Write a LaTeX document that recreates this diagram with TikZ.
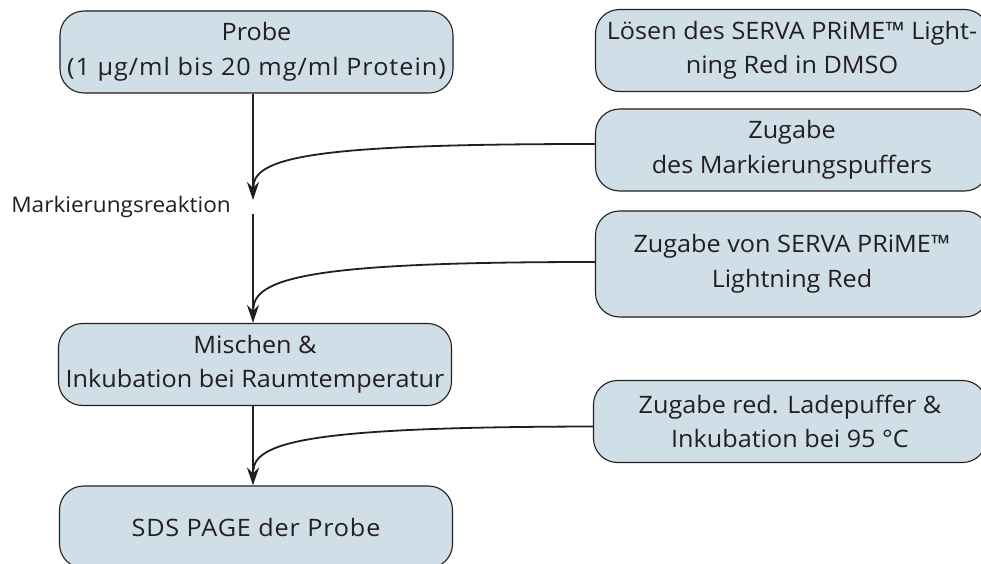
\documentclass[tikz,border=0pt]{standalone}
\usepackage{fontspec}
\setmainfont{Open Sans}[FakeStretch=1.05]
\usetikzlibrary{arrows.meta}
\definecolor{boxfill}{HTML}{D0DEE7}
\definecolor{ink}{HTML}{231F20}
\begin{document}
\begin{tikzpicture}[x=1pt,y=-1pt,
  stepbox/.style={draw=ink, line width=1.1pt, fill=boxfill, rounded corners=24pt,
    minimum width=393pt, minimum height=82pt, inner sep=0pt, align=center,
    text=ink, font=\fontsize{24}{34.5}\selectfont},
  flow/.style={draw=ink, line width=1.8pt, -{Stealth[length=18pt,width=12pt,inset=6pt]}},
  feed/.style={draw=ink, line width=1.8pt}]
\useasboundingbox (0,0) rectangle (981,564);
\fill[white] (0,0) rectangle (981,564);

\node[stepbox] (probe) at (256.5,52) {Probe\\{\addfontfeature{LetterSpace=4.2}(1 µg/ml bis 20 mg/ml Protein)}};
\node[stepbox] (misch) at (255,364.5) {Mischen \&\\Inkubation bei Raumtemperatur};
\node[stepbox] (sds) at (256,527) {\addfontfeature{LetterSpace=3.5}SDS PAGE der Probe};

\node[stepbox] (loesen) at (792,50.5) {Lösen des SERVA PRiME™ Light-\\ning Red in DMSO};
\node[stepbox] (zug1) at (792,150) {Zugabe\\des Markierungspuffers};
\node[stepbox, minimum height=106pt] (zug2) at (792,264) {Zugabe von SERVA PRiME™\\Lightning Red};
\node[stepbox] (zug3) at (790,421.5) {Zugabe red. Ladepuffer \&\\Inkubation bei 95 °C};

\coordinate (m1) at (253,200);
\coordinate (m2) at (253,214);
\node[anchor=east, inner sep=0pt, text=ink, font=\fontsize{21.5}{24}\selectfont] (lbl) at (231,207) {Markierungsreaktion};

\coordinate (j1) at (253.5,186);
\coordinate (j2) at (253.5,308);
\coordinate (j3) at (253.5,470);

\draw[flow] (probe.south -| m1) -- (m1);
\draw[flow] (m2) -- (m2 |- misch.north);
\draw[flow] (misch.south -| m1) -- (m1 |- sds.north);

\draw[feed] ([yshift=6pt]zug1.west) .. controls (330,144) and (255,155) .. (j1);
\draw[feed] ([yshift=2pt]zug2.west) .. controls (330,262) and (255,275) .. (j2);
\draw[feed] ([yshift=-5pt]zug3.west) .. controls (330,427) and (255,439) .. (j3);
\end{tikzpicture}
\end{document}
